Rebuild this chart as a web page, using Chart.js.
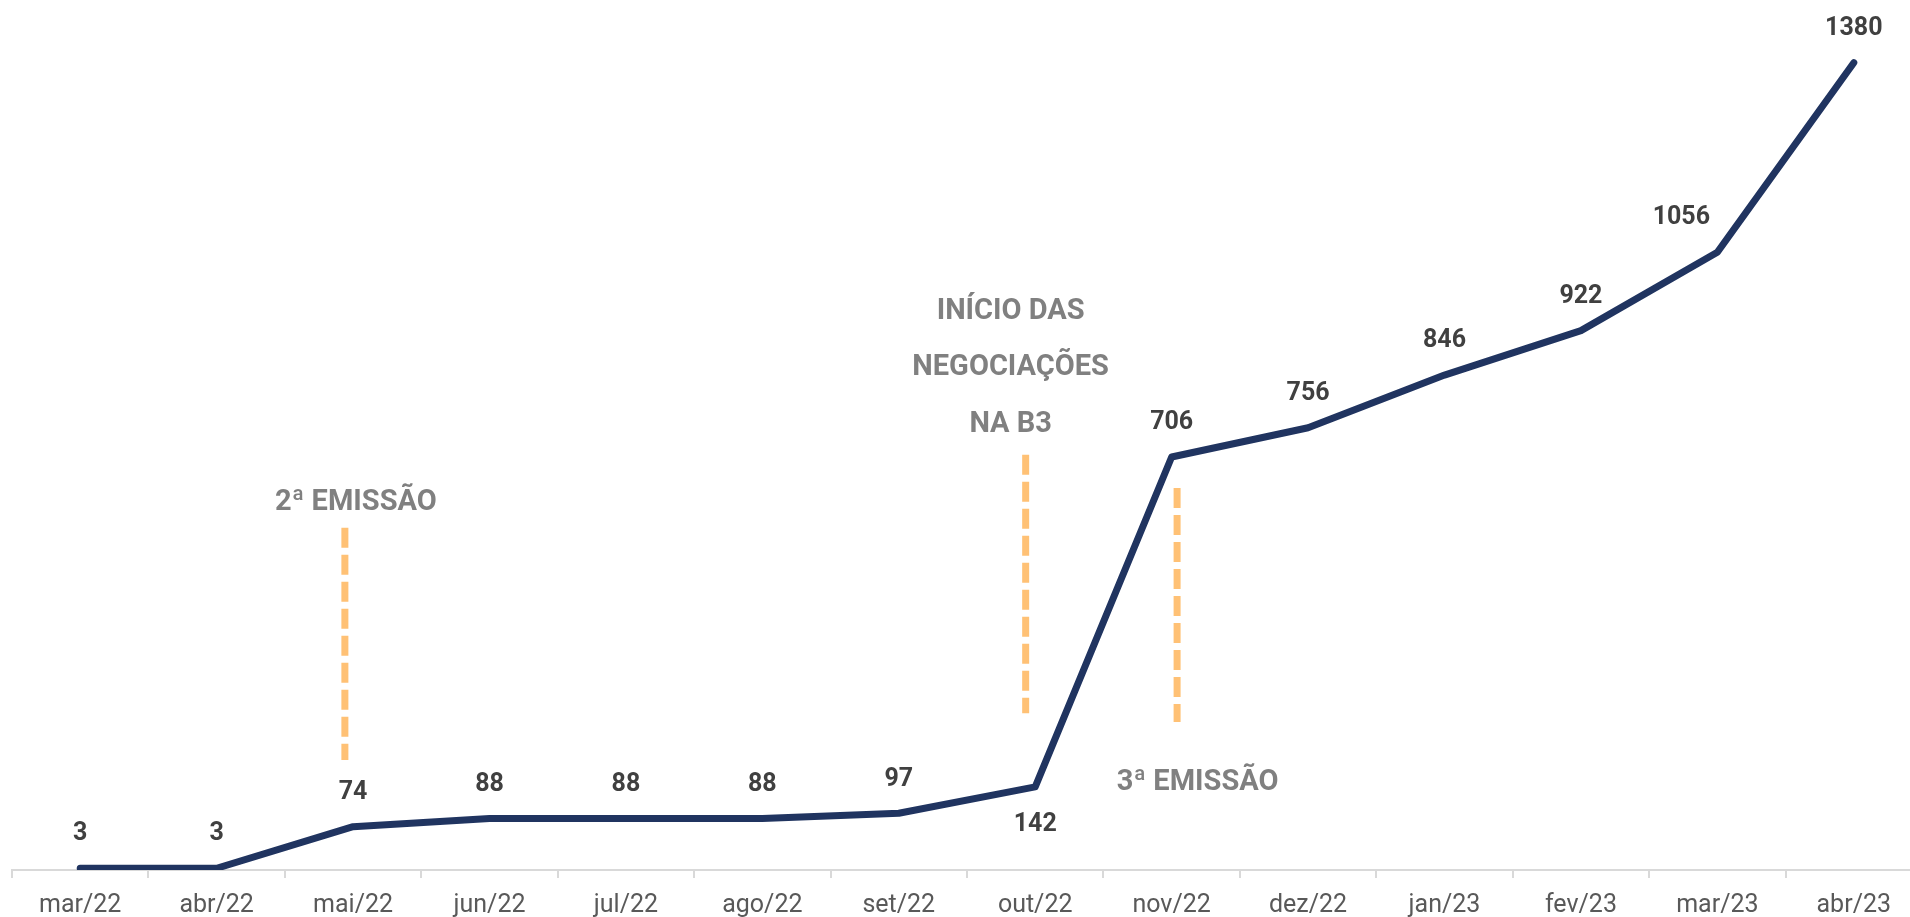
<!DOCTYPE html>
<html>
<head>
<meta charset="utf-8">
<script src="https://cdn.jsdelivr.net/npm/chart.js@4.4.1/dist/chart.umd.min.js"></script>
<style>
  html, body { margin: 0; padding: 0; background: #ffffff; overflow: hidden; }
  #wrap { width: 1922px; height: 917px; }
</style>
</head>
<body>
<div id="wrap"><canvas id="c" width="1922" height="917"></canvas></div>
<script>
const categories = ['mar/22','abr/22','mai/22','jun/22','jul/22','ago/22','set/22','out/22','nov/22','dez/22','jan/23','fev/23','mar/23','abr/23'];
const values = [3, 3, 74, 88, 88, 88, 97, 142, 706, 756, 846, 922, 1056, 1380];
const labelBelow = [false, false, false, false, false, false, false, true, false, false, false, false, false, false];
const labelShiftLeft = [false, false, false, false, false, false, false, false, false, false, false, false, true, false];

// event markers: x in category-index units, y range in data units
const markerX = [1.94, 6.93, 8.04];
const markerYTop = [585, 710, 653];
const markerYBottom = [188, 268, 253];

// annotation texts: x in category-index units, y in data units
const noteTexts = ['2ª EMISSÃO', 'INÍCIO DAS', 'NEGOCIAÇÕES', 'NA B3', '3ª EMISSÃO'];
const noteX = [2.02, 6.82, 6.82, 6.82, 8.19];
const noteY = [628, 954, 858, 761, 150];

const annotationPlugin = {
  id: 'annotations',
  afterDatasetsDraw(chart) {
    const ctx = chart.ctx;
    const xs = chart.scales.x, ys = chart.scales.y;
    ctx.save();
    // dashed markers
    ctx.strokeStyle = '#FFC175';
    ctx.lineWidth = 7;
    ctx.setLineDash([20, 7]);
    ctx.lineCap = 'butt';
    for (let i = 0; i < markerX.length; i++) {
      const x = xs.getPixelForValue(markerX[i]);
      ctx.beginPath();
      ctx.moveTo(x, ys.getPixelForValue(markerYTop[i]));
      ctx.lineTo(x, ys.getPixelForValue(markerYBottom[i]));
      ctx.stroke();
    }
    ctx.setLineDash([]);
    // notes
    ctx.fillStyle = '#808080';
    ctx.font = 'bold 29px Roboto';
    ctx.textAlign = 'center';
    ctx.textBaseline = 'middle';
    for (let i = 0; i < noteTexts.length; i++) {
      ctx.fillText(noteTexts[i], xs.getPixelForValue(noteX[i]), ys.getPixelForValue(noteY[i]));
    }
    // data labels
    ctx.fillStyle = '#404040';
    ctx.font = 'bold 25px Roboto';
    const meta = chart.getDatasetMeta(0);
    meta.data.forEach((pt, i) => {
      const dy = labelBelow[i] ? 38 : -34;
      const dx = labelShiftLeft[i] ? -36 : 0;
      ctx.fillText(String(values[i]), pt.x + dx, pt.y + dy);
    });
    ctx.restore();
  }
};

new Chart(document.getElementById('c'), {
  type: 'line',
  data: {
    labels: categories,
    datasets: [{
      data: values,
      borderColor: '#203460',
      borderWidth: 7,
      borderCapStyle: 'round',
      borderJoinStyle: 'round',
      pointRadius: 0,
      pointHoverRadius: 0,
      tension: 0,
      fill: false
    }]
  },
  options: {
    responsive: false,
    animation: false,
    events: [],
    layout: { padding: { left: 12, right: 0, top: 51, bottom: 0 } },
    plugins: { legend: { display: false }, tooltip: { enabled: false } },
    scales: {
      x: {
        offset: true,
        grid: { offset: true, drawOnChartArea: false, drawTicks: true, tickLength: 8, color: '#d9d9d9', lineWidth: 2 },
        border: { display: true, color: '#d9d9d9', width: 2 },
        ticks: { color: '#595959', font: { family: 'Roboto', size: 25 }, padding: 13, maxRotation: 0, autoSkip: false },
        afterFit(scale) { scale.height = 47; }
      },
      y: {
        display: false,
        min: 0,
        max: 1400
      }
    }
  },
  plugins: [annotationPlugin]
});
</script>
</body>
</html>
